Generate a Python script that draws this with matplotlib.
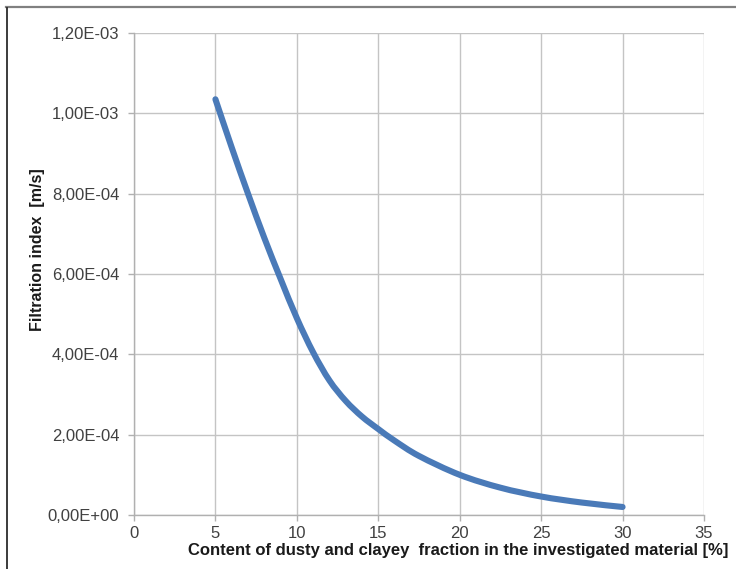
import matplotlib
matplotlib.use("Agg")
import matplotlib.pyplot as plt
from matplotlib.ticker import FuncFormatter
from matplotlib.lines import Line2D
from matplotlib.path import Path
from matplotlib.patches import PathPatch

# Data
content_pct = [5, 6, 7, 8, 9, 10, 11, 12, 13, 14, 15, 16, 17.5, 20, 22.5, 25, 27.5, 30]
filtration_idx = [1.035e-3, 9.15e-4, 8.00e-4, 6.90e-4, 5.88e-4, 4.90e-4, 4.05e-4,
                  3.35e-4, 2.84e-4, 2.45e-4, 2.14e-4, 1.85e-4, 1.47e-4, 1.00e-4,
                  6.8e-5, 4.6e-5, 3.1e-5, 2.0e-5]
x_ticks = [0, 5, 10, 15, 20, 25, 30, 35]
y_ticks = [0, 2e-4, 4e-4, 6e-4, 8e-4, 1.0e-3, 1.2e-3]

plt.rcParams['font.family'] = ['Liberation Sans', 'DejaVu Sans']

fig = plt.figure(figsize=(7.36, 5.69), dpi=100)
ax = fig.add_axes([134/736, 1 - 515/569, (704 - 134)/736, (515 - 33)/569])

# Smoothed line (like a spreadsheet "smoothed line") through the data points
pts = list(zip(content_pct, filtration_idx))
verts = [pts[0]]
codes = [Path.MOVETO]
n = len(pts)
for i in range(n - 1):
    p0 = pts[i - 1] if i > 0 else pts[i]
    p1 = pts[i]
    p2 = pts[i + 1]
    p3 = pts[i + 2] if i + 2 < n else pts[i + 1]
    c1 = (p1[0] + (p2[0] - p0[0]) / 6, p1[1] + (p2[1] - p0[1]) / 6)
    c2 = (p2[0] - (p3[0] - p1[0]) / 6, p2[1] - (p3[1] - p1[1]) / 6)
    verts += [c1, c2, p2]
    codes += [Path.CURVE4, Path.CURVE4, Path.CURVE4]
curve = PathPatch(Path(verts, codes), facecolor='none', edgecolor='#4a7ab8',
                  lw=4.4, capstyle='round', joinstyle='round', zorder=3,
                  transform=ax.transData)
ax.add_patch(curve)

ax.set_xlim(0, 35)
ax.set_ylim(0, 1.2e-3)
ax.set_xticks(x_ticks)
ax.set_yticks(y_ticks)

def sci_comma(v, pos):
    return f"{v:.2E}".replace('.', ',')

ax.yaxis.set_major_formatter(FuncFormatter(sci_comma))
ax.xaxis.set_major_formatter(FuncFormatter(lambda v, p: f"{int(v)}"))

ax.grid(True, color='#c4c4c4', lw=1.0, zorder=0)
ax.set_axisbelow(True)
for side in ['top', 'right']:
    ax.spines[side].set_visible(False)
for side in ['left', 'bottom']:
    ax.spines[side].set_color('#b0b0b0')
    ax.spines[side].set_linewidth(1.0)

ax.tick_params(axis='both', colors='#b0b0b0', labelcolor='#404040',
               length=4, width=1.0, labelsize=12)
ax.tick_params(axis='y', pad=6.5)
ax.tick_params(axis='x', pad=4)

fig.text(728/736, 1 - 551/569, "Content of dusty and clayey  fraction in the investigated material [%]",
         ha='right', va='center', fontsize=12, fontweight='bold', color='#1a1a1a')
fig.text(38/736, 1 - 250/569, "Filtration index  [m/s]", rotation=90,
         ha='center', va='center', fontsize=11.5, fontweight='bold', color='#1a1a1a')

# Figure frame lines
fig.add_artist(Line2D([6/736, 1.0], [1 - 7/569, 1 - 7/569], transform=fig.transFigure,
                      color='#808080', lw=1.6))
fig.add_artist(Line2D([7/736, 7/736], [1 - 8/569, 0.0], transform=fig.transFigure,
                      color='#1a1a1a', lw=1.2))

fig.savefig("out.png", dpi=100)
